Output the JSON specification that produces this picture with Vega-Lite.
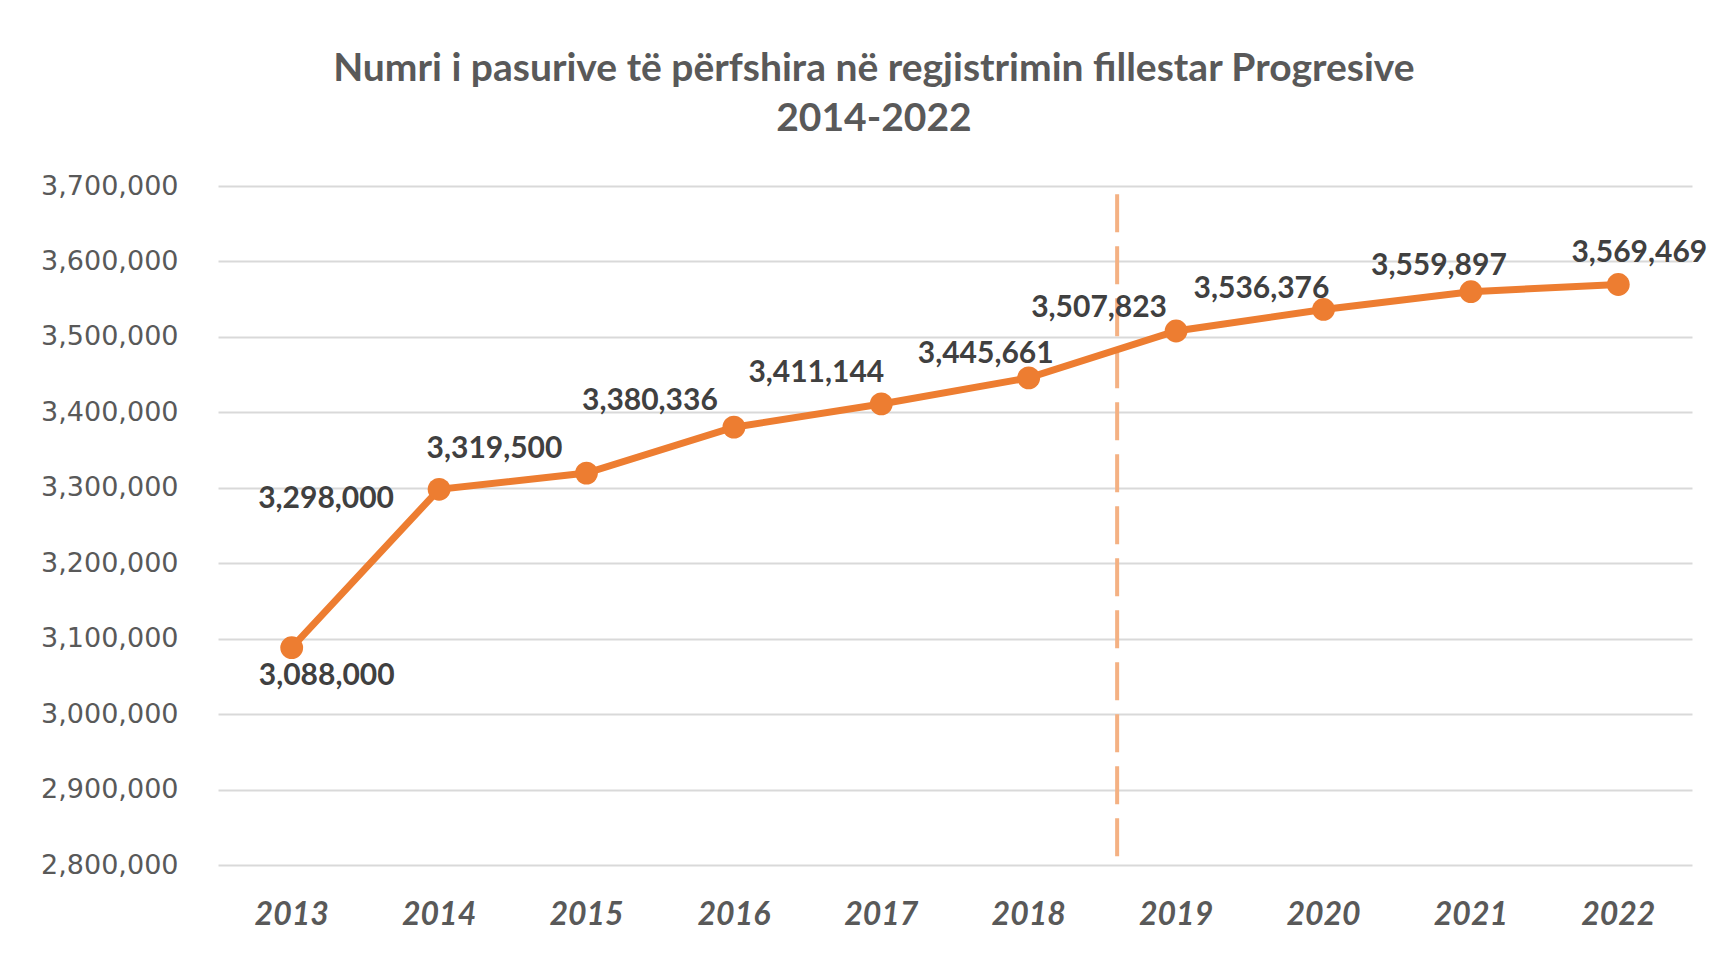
{
  "$schema": "https://vega.github.io/schema/vega-lite/v6.json",
  "width": 1730,
  "height": 953,
  "autosize": {"type": "fit", "contains": "padding"},
  "padding": {"top": 50, "left": 40, "right": 35, "bottom": 23},
  "background": "white",
  "title": {
    "text": ["Numri i pasurive të përfshira në regjistrimin fillestar  Progresive", "2014-2022"],
    "font": "Lato",
    "fontSize": 39,
    "fontWeight": "bold",
    "color": "#595959",
    "lineHeight": 50,
    "anchor": "middle",
    "frame": "bounds",
    "offset": 33
  },
  "config": {
    "view": {"stroke": null},
    "axis": {"domain": false, "ticks": false}
  },
  "data": {"values": [
    {"year": "2013", "value": 3088000},
    {"year": "2014", "value": 3298000},
    {"year": "2015", "value": 3319500},
    {"year": "2016", "value": 3380336},
    {"year": "2017", "value": 3411144},
    {"year": "2018", "value": 3445661},
    {"year": "2019", "value": 3507823},
    {"year": "2020", "value": 3536376},
    {"year": "2021", "value": 3559897},
    {"year": "2022", "value": 3569469}
  ]},
  "encoding": {
    "x": {
      "field": "year", "type": "ordinal", "bandPosition": 0.5,
      "scale": {"type": "band", "paddingInner": 0, "paddingOuter": 0},
      "axis": {"title": null, "labelAngle": 0, "grid": false, "labelFont": "Lato", "labelFontSize": 32, "labelFontWeight": "bold", "labelFontStyle": "italic", "labelColor": "#595959", "labelPadding": 34}
    },
    "y": {
      "field": "value", "type": "quantitative",
      "scale": {"domain": [2800000, 3700000], "nice": false, "zero": false},
      "axis": {"title": null, "values": [2800000, 2900000, 3000000, 3100000, 3200000, 3300000, 3400000, 3500000, 3600000, 3700000], "labelExpr": "format(datum.value, ',')", "grid": true, "gridColor": "#D9D9D9", "gridWidth": 2, "labelFont": "DejaVu Sans", "labelFontSize": 27, "labelColor": "#595959", "labelPadding": 40}
    }
  },
  "layer": [
    {
      "data": {"values": [{"from": 3689000, "to": 2800000}]},
      "mark": {"type": "rule", "color": "#F4B183", "strokeWidth": 4, "strokeDash": [38, 14]},
      "encoding": {
        "x": {"datum": "2019", "type": "ordinal", "bandPosition": 0.1},
        "y": {"field": "from", "type": "quantitative"},
        "y2": {"field": "to"}
      }
    },
    {"mark": {"type": "line", "color": "#ED7D31", "strokeWidth": 7}},
    {"mark": {"type": "point", "filled": true, "opacity": 1, "color": "#ED7D31", "size": 520, "shape": "circle"}},
    {"transform": [{"filter": "datum.year == '2013'"}], "mark": {"type": "text", "dx": 35, "dy": 28, "font": "Lato", "fontSize": 30, "fontWeight": "bold", "color": "#404040"}, "encoding": {"text": {"field": "value", "format": ","}}},
    {"transform": [{"filter": "datum.year == '2014'"}], "mark": {"type": "text", "dx": -113, "dy": 10, "font": "Lato", "fontSize": 30, "fontWeight": "bold", "color": "#404040"}, "encoding": {"text": {"field": "value", "format": ","}}},
    {"transform": [{"filter": "datum.year == '2015'"}], "mark": {"type": "text", "dx": -92, "dy": -24, "font": "Lato", "fontSize": 30, "fontWeight": "bold", "color": "#404040"}, "encoding": {"text": {"field": "value", "format": ","}}},
    {"transform": [{"filter": "datum.year == '2016'"}], "mark": {"type": "text", "dx": -84, "dy": -26, "font": "Lato", "fontSize": 30, "fontWeight": "bold", "color": "#404040"}, "encoding": {"text": {"field": "value", "format": ","}}},
    {"transform": [{"filter": "datum.year == '2017'"}], "mark": {"type": "text", "dx": -65, "dy": -31, "font": "Lato", "fontSize": 30, "fontWeight": "bold", "color": "#404040"}, "encoding": {"text": {"field": "value", "format": ","}}},
    {"transform": [{"filter": "datum.year == '2018'"}], "mark": {"type": "text", "dx": -43, "dy": -24, "font": "Lato", "fontSize": 30, "fontWeight": "bold", "color": "#404040"}, "encoding": {"text": {"field": "value", "format": ","}}},
    {"transform": [{"filter": "datum.year == '2019'"}], "mark": {"type": "text", "dx": -77, "dy": -23, "font": "Lato", "fontSize": 30, "fontWeight": "bold", "color": "#404040"}, "encoding": {"text": {"field": "value", "format": ","}}},
    {"transform": [{"filter": "datum.year == '2020'"}], "mark": {"type": "text", "dx": -62, "dy": -20, "font": "Lato", "fontSize": 30, "fontWeight": "bold", "color": "#404040"}, "encoding": {"text": {"field": "value", "format": ","}}},
    {"transform": [{"filter": "datum.year == '2021'"}], "mark": {"type": "text", "dx": -32, "dy": -26, "font": "Lato", "fontSize": 30, "fontWeight": "bold", "color": "#404040"}, "encoding": {"text": {"field": "value", "format": ","}}},
    {"transform": [{"filter": "datum.year == '2022'"}], "mark": {"type": "text", "dx": 21, "dy": -31, "font": "Lato", "fontSize": 30, "fontWeight": "bold", "color": "#404040"}, "encoding": {"text": {"field": "value", "format": ","}}}
  ]
}
